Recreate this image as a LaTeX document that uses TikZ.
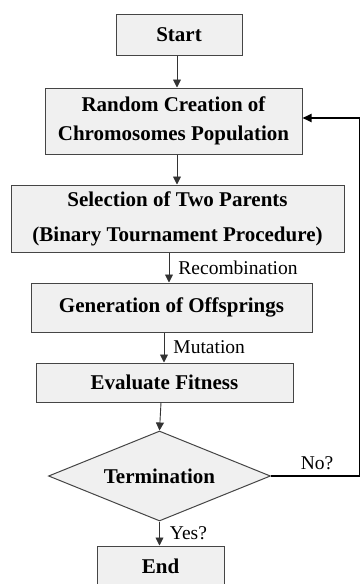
\documentclass[tikz,border=0pt]{standalone}
\usepackage{fontspec}
\setmainfont{Liberation Serif}
\usetikzlibrary{shapes.geometric,arrows.meta}
\definecolor{boxfill}{HTML}{F0F0F0}
\definecolor{boxline}{HTML}{454545}
\tikzset{
  box/.style={draw=boxline, line width=1pt, fill=boxfill, inner sep=0pt, align=center,
    font=\fontsize{21}{29}\selectfont\bfseries},
  arr/.style={draw=black!80, line width=0.9pt, -{Triangle[length=8pt,width=8pt]}},
  lab/.style={font=\fontsize{19.5}{21}\selectfont, inner sep=0pt},
}
\begin{document}
\begin{tikzpicture}[x=1pt,y=-1pt]
\useasboundingbox (0,0) rectangle (361,584);
\clip (0,0) rectangle (361,584);
\node[box, minimum width=126pt, minimum height=41pt] (start) at (179,34.5) {Start};
\node[box, minimum width=257pt, minimum height=66pt] (random) at (173.5,121) {Random Creation of\\Chromosomes Population};
\node[box, minimum width=333pt, minimum height=67pt, font=\fontsize{21}{35}\selectfont\bfseries] (sel) at (177.5,218.5) {Selection of Two Parents\\(Binary Tournament Procedure)};
\node[box, minimum width=281pt, minimum height=49pt] (gen) at (171.5,307.5) {Generation of Offsprings};
\node[box, minimum width=257pt, minimum height=39pt] (eval) at (164.5,382.5) {Evaluate Fitness};
\node[box, shape=diamond, aspect=2.47, minimum width=222pt, minimum height=90pt] (term) at (159.5,476) {Termination};
\node[box, minimum width=127pt, minimum height=50pt] (end) at (160.5,571) {};
\node[font=\fontsize{21}{22}\selectfont\bfseries, inner sep=0pt] (endt) at (160.5,566) {End};
\coordinate (a1) at (177,0);
\coordinate (a2) at (169,0);
\coordinate (a3) at (164,0);
\coordinate (a4) at (161,0);
\coordinate (a5) at (160,0);
\draw[arr] (start.south -| a1) -- (random.north -| a1);
\draw[arr] (random.south -| a1) -- (sel.north -| a1);
\draw[arr] (sel.south -| a2) -- node[lab, right=9pt, anchor=west] (rec) {Recombination} (gen.north -| a2);
\draw[arr] (gen.south -| a3) -- node[lab, right=9pt, anchor=west] (mut) {Mutation} (eval.north -| a3);
\draw[arr] (eval.south -| a4) -- (term.north);
\draw[arr] (term.south) -- node[lab, right=10pt, anchor=west] (yes) {Yes?} (end.north -| term.south);
\coordinate (lp) at (359.5,118);
\draw[line width=1.8pt, black, -{Triangle[length=9pt,width=8pt]}] (term.east) -| (lp) -- (random.east |- lp);
\node[lab, anchor=south] (no) at (317,470) {No?};
\end{tikzpicture}
\end{document}
